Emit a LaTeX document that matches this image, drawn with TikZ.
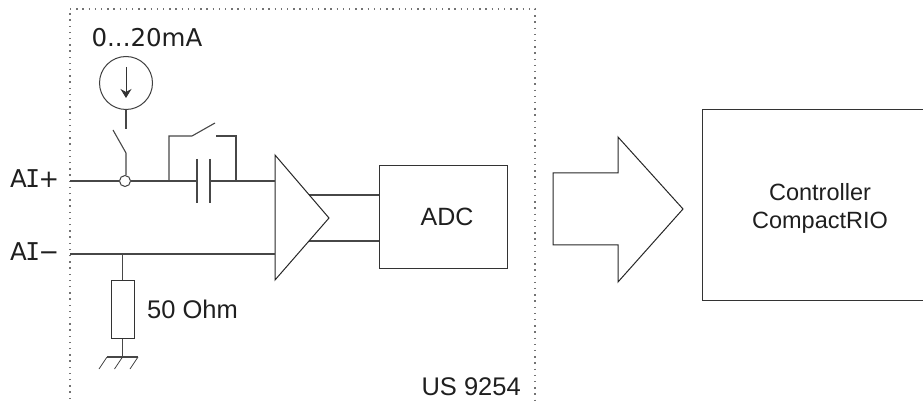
\documentclass[tikz,border=0pt]{standalone}
\usepackage{fontspec}
\setmainfont{Liberation Sans}
\newfontfamily\verdfont{DejaVu Sans}
\newfontfamily\verdmono{DejaVu Sans Mono}
\usetikzlibrary{arrows.meta,positioning}
\begin{document}
\begin{tikzpicture}[x=1pt,y=-1pt,
	wire/.style={draw=black!72,line width=1.1pt},
	box/.style={draw=black!80,line width=1pt,fill=white,inner sep=0pt},
	border/.style={black!55,line width=1.4pt,dash pattern=on 1.4pt off 4.8pt},
	txt/.style={inner sep=0pt,text=black!88}]
	\useasboundingbox (0,0) rectangle (923,403);

	% module border
	\coordinate (bl) at (70,399);
	\coordinate (tl) at (70,9);
	\coordinate (tr) at (535,9);
	\coordinate (br) at (535,403);
	\draw[border] (bl) -- (tl);
	\draw[border] (tl) -- (tr) -- (br);

	% inputs
	\coordinate (p) at (70,181);
	\coordinate (m) at (70,254);
	\node[txt,font=\verdfont\fontsize{24.5}{24.5}\selectfont,anchor=west] at (10,179) (aip) {A{\verdmono\hspace{-1.5pt}I\hspace{-1.5pt}}+};
	\node[txt,font=\verdfont\fontsize{24.5}{24.5}\selectfont,anchor=west] at (10,252) (aim) {A{\verdmono\hspace{-1.5pt}I\hspace{-1.5pt}}−};

	% amplifier
	\coordinate (a1) at (275,155);
	\coordinate (a2) at (329,218);
	\coordinate (a3) at (275,280);
	\coordinate (ap) at (275,181);
	\coordinate (am) at (275,254);
	\coordinate (ao1) at (309,195);
	\coordinate (ao2) at (309,241);

	% adc
	\node[box,minimum width=128pt,minimum height=103pt] at (443,217.5) (adc) {};
	\node[txt,font=\fontsize{25}{25}\selectfont] at (447,217) (adct) {ADC};
	\coordinate (adc1) at (adc.west |- ao1);
	\coordinate (adc2) at (adc.west |- ao2);
	\draw[wire] (ao1) -- (adc1);
	\draw[wire] (ao2) -- (adc2);
	\draw[black!85,line width=1pt,line join=miter] (a1) -- (a2) -- (a3) -- cycle;

	% current source
	\node[circle,draw=black!75,line width=1pt,minimum size=53pt,inner sep=0pt] at (126,83) (src) {};
	\node[txt,font=\verdfont\fontsize{24.5}{24.5}\selectfont] at (147,38) (srct) {0...20mA};
	\coordinate (s1) at (126,67);
	\coordinate (s2) at (126,98);
	\draw[black!80,line width=1pt,-{Stealth[length=9pt,width=11pt]}] (s1) -- (s2);

	% switch to the source
	\coordinate (sw0) at (126,129);
	\coordinate (sw1) at (113,130);
	\coordinate (sw2) at (126,153);
	\node[circle,draw=black!75,line width=1pt,fill=white,minimum size=11pt,inner sep=0pt] at (125,181) (jn) {};
	\draw[wire] (src) -- (sw0);
	\draw[wire] (sw1) -- (sw2) -- (sw2 |- jn.north);

	% capacitor and switch across it
	\coordinate (c1) at (197,181);
	\coordinate (c2) at (210,181);
	\coordinate (b1) at (169,181);
	\coordinate (b2) at (236,181);
	\coordinate (b3) at (169,136);
	\coordinate (b4) at (192,136);
	\coordinate (b5) at (215,123);
	\coordinate (b6) at (216,136);
	\coordinate (b7) at (236,136);
	\draw[wire] (p) -- (jn);
	\draw[wire] (jn) -- (c1);
	\draw[wire] (c2) -- (ap);
	\draw[wire] (c1 |- 0,159) -- (c1 |- 0,203);
	\draw[wire] (c2 |- 0,159) -- (c2 |- 0,203);
	\draw[wire] (b1) -- (b3) -- (b4) -- (b5);
	\draw[wire] (b6) -- (b7) -- (b2);

	% lower input and resistor
	\draw[wire] (m) -- (am);
	\coordinate (rt) at (122.5,254);
	\node[box,minimum width=23pt,minimum height=58pt] at (122.5,309.5) (res) {};
	\node[txt,font=\fontsize{25.5}{25.5}\selectfont,anchor=west] at (147,309) (rest) {50 Ohm};
	\coordinate (gnd) at (122.5,357);
	\draw[wire] (rt) -- (res);
	\draw[wire] (res) -- (gnd);
	\coordinate (g1) at (107,357);
	\coordinate (g2) at (138,357);
	\draw[wire] (g1) -- (g2);
	\foreach \x in {107,122.5,138}
		\draw[black!75,line width=0.8pt] (\x,357) -- ++(-8,12);

	\node[txt,font=\fontsize{25.5}{25.5}\selectfont,anchor=east] at (521,387) (mod) {US 9254};

	% big arrow
	\draw[black!85,line width=1pt,line join=miter] (553,173) -- (618,173) -- (618,137) -- (683,209) -- (618,282) -- (618,245) -- (553,245) -- cycle;

	% controller, runs off the right edge
	\node[box,minimum width=236pt,minimum height=190pt] at (820,205) (ctrl) {};
	\node[txt,font=\fontsize{23.5}{28}\selectfont,align=center] at (820,208) (ctrlt) {Controller\\CompactRIO};
\end{tikzpicture}
\end{document}
